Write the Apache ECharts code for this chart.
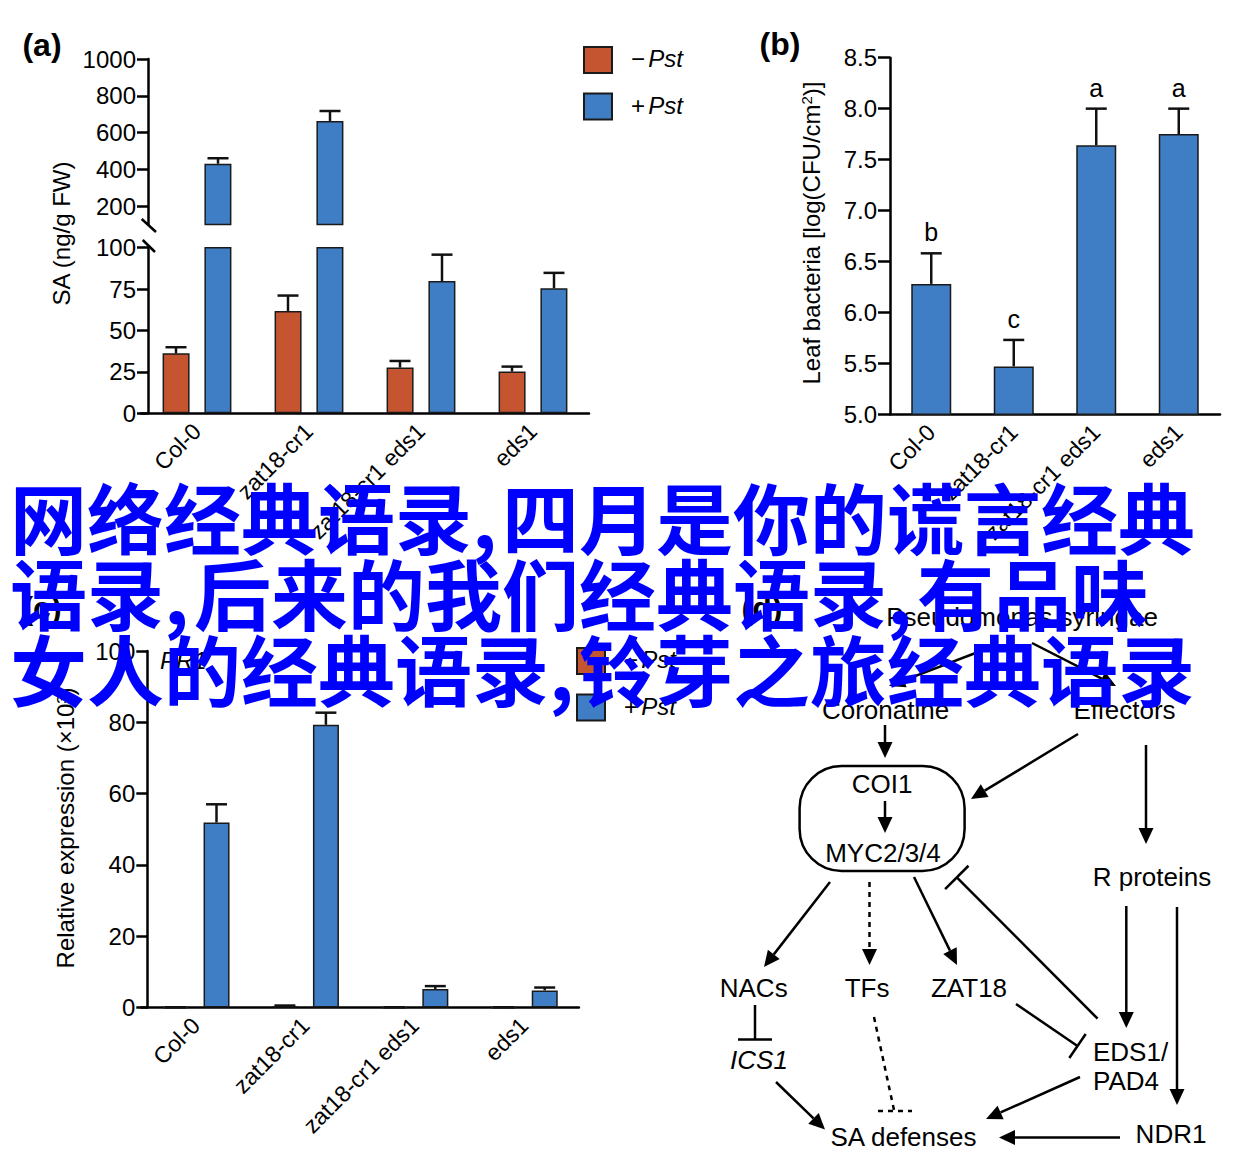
<!DOCTYPE html>
<html><head><meta charset="utf-8">
<script src="https://cdn.jsdelivr.net/npm/echarts@6/dist/echarts.min.js"></script>
<style>html,body{margin:0;padding:0;background:#fff}#chart{width:1245px;height:1166px}</style>
</head><body><div id="chart"></div>
<script>
// ---------- data ----------
const categories = ['Col-0', 'zat18-cr1', 'zat18-cr1 eds1', 'eds1'];
const seriesNames = ['−Pst', '+Pst'];
// (a) SA (ng/g FW)
const saMinusPst = [36.2, 61.8, 27.6, 25.2];
const saMinusPstErr = [3.7, 9.3, 4.0, 3.0];
const saPlusPst = [430, 663, 79.9, 75.5];
const saPlusPstErr = [30, 54, 15.9, 9.3];
const saUpperTicks = [200, 400, 600, 800, 1000];
// (b) Leaf bacteria
const bacteria = [6.28, 5.47, 7.64, 7.75];
const bacteriaErr = [0.30, 0.26, 0.36, 0.25];
const bacteriaLetters = ['b', 'c', 'a', 'a'];
// (c) PR1 relative expression
const pr1MinusPst = [0.05, 0.4, 0.05, 0.05];
const pr1MinusPstErr = [0.02, 0.15, 0.02, 0.02];
const pr1PlusPst = [51.9, 79.3, 5.2, 4.8];
const pr1PlusPstErr = [5.1, 3.4, 0.8, 0.8];
// overlay text lines (segments split at commas)
const overlayLines = [
  ['网络经典语录', '四月是你的谎言经典'],
  ['语录', '后来的我们经典语录', '有品味'],
  ['女人的经典语录', '铃芽之旅经典语录']
];

// ---------- styles ----------
const FONT = '"Liberation Sans", Arial, Helvetica, sans-serif';
const ORANGE = '#C45530', BLUE = '#3F7DC4', EDGE = '#1a1a1a';

function xCat(gridIndex, show) {
  return {
    type: 'category', gridIndex, data: categories, show,
    axisLine: { lineStyle: { color: '#000', width: 2.5 } },
    axisTick: { alignWithLabel: true, length: 10, lineStyle: { width: 2.5, color: '#000' } },
    axisLabel: { rotate: 45, interval: 0, margin: 14, fontSize: 23, color: '#000', fontFamily: FONT }
  };
}
function yVal(gridIndex, extra, tickExtra, labelExtra) {
  return Object.assign({
    type: 'value', gridIndex,
    axisLine: { show: true, lineStyle: { color: '#000', width: 2.5 } },
    axisTick: Object.assign({ show: true, length: 11, lineStyle: { width: 2.5, color: '#000' } }, tickExtra || {}),
    axisLabel: Object.assign({ fontSize: 24, color: '#000', fontFamily: FONT, margin: 12, formatter: v => String(v) }, labelExtra || {}),
    splitLine: { show: false }
  }, extra);
}
function bar(name, xi, yi, data, color, width, gap) {
  return { type: 'bar', name, xAxisIndex: xi, yAxisIndex: yi, data, barWidth: width, barGap: gap,
    itemStyle: { color, borderColor: EDGE, borderWidth: 1.5 }, z: 2 };
}
function errSeries(xi, yi, vals, errs, offset, letters) {
  return {
    type: 'custom', name: 'err', xAxisIndex: xi, yAxisIndex: yi, z: 4,
    data: vals.map((v, i) => [i, v, errs[i]]),
    encode: { x: 0, y: 1 },
    renderItem(params, api) {
      const cs = params.coordSys;
      const i = api.value(0), v = api.value(1), e = api.value(2);
      const p0 = api.coord([i, v]);
      const p1 = api.coord([i, v + e]);
      if (p0[1] > cs.y + cs.height + 0.5 || p1[1] < cs.y - 0.5) return null;
      const cx = p0[0] + offset;
      const ch = [
        { type: 'line', shape: { x1: cx, y1: p0[1], x2: cx, y2: p1[1] }, style: { stroke: '#111', lineWidth: 2.5 } },
        { type: 'line', shape: { x1: cx - 10.5, y1: p1[1], x2: cx + 10.5, y2: p1[1] }, style: { stroke: '#111', lineWidth: 2.5 } }
      ];
      if (letters) ch.push({ type: 'text', x: cx, y: p1[1] - 21,
        style: { text: letters[i], fill: '#000', fontSize: 25, fontFamily: FONT,
          align: 'center', verticalAlign: 'middle', textAlign: 'center', textVerticalAlign: 'middle' } });
      return { type: 'group', children: ch };
    }
  };
}
function legendAt(left, top) {
  return {
    left, top, padding: 0, orient: 'vertical', icon: 'rect', itemWidth: 28, itemHeight: 26, itemGap: 18.5,
    selectedMode: false, data: seriesNames,
    formatter: n => '{s|' + n.charAt(0) + '} {i|' + n.slice(1) + '}',
    textStyle: { padding: [0, 0, 3, 14], color: '#000',
      rich: { s: { fontSize: 24, fontFamily: FONT, color: '#000' },
              i: { fontSize: 24, fontFamily: FONT, fontStyle: 'italic', color: '#000' } } }
  };
}

// ---------- graphic helpers (labels, diagram) ----------
function T(text, x, y, o) {
  return { type: 'text', x, y, z: 10, rotation: (o && o.rot) || 0,
    style: Object.assign({ text, fill: '#000', fontSize: 26, fontFamily: FONT,
      align: 'center', verticalAlign: 'middle', textAlign: 'center', textVerticalAlign: 'middle' }, (o && o.style) || {}) };
}
function L(x1, y1, x2, y2, dash) {
  return { type: 'line', z: 10, shape: { x1, y1, x2, y2 },
    style: { stroke: '#000', lineWidth: 2.5, lineDash: dash ? [5, 5] : null } };
}
function A(x1, y1, x2, y2, dash) {
  const ang = Math.atan2(y2 - y1, x2 - x1), len = 16, w = 7.5;
  const bx = x2 - len * Math.cos(ang), by = y2 - len * Math.sin(ang);
  const px = -Math.sin(ang) * w, py = Math.cos(ang) * w;
  return [L(x1, y1, bx, by, dash),
    { type: 'polygon', z: 10, shape: { points: [[x2, y2], [bx + px, by + py], [bx - px, by - py]] }, style: { fill: '#000' } }];
}
function TB(x1, y1, x2, y2, half) {
  const ang = Math.atan2(y2 - y1, x2 - x1);
  const px = -Math.sin(ang) * half, py = Math.cos(ang) * half;
  return [L(x1, y1, x2, y2), L(x2 + px, y2 + py, x2 - px, y2 - py)];
}

const diagram = [].concat(
  T('Pseudomonas syringae', 1022, 617),
  A(986, 649, 889, 686), A(1032, 643, 1116, 686),
  T('Coronatine', 885.5, 710), T('Effectors', 1124.5, 710),
  A(885, 725, 885, 758),
  { type: 'rect', z: 10, shape: { x: 799.6, y: 766, width: 165, height: 105, r: 42 },
    style: { fill: 'rgba(0,0,0,0)', stroke: '#000', lineWidth: 2.5 } },
  T('COI1', 882, 784), A(885, 801, 885, 833), T('MYC2/3/4', 883, 853),
  A(1078, 734, 971, 799), A(1146, 745, 1146, 844),
  T('R proteins', 1152, 877),
  A(830, 882, 764, 967), A(869.5, 882, 869.5, 965, true), A(914, 877, 957, 965),
  TB(1097.6, 1018.7, 956.8, 877.4, 16.5),
  T('NACs', 753.7, 988), T('TFs', 867, 988), T('ZAT18', 969, 988),
  TB(755, 1005, 755, 1039.5, 17),
  T('ICS1', 759, 1059.5, { style: { fontStyle: 'italic' } }),
  A(776, 1082, 825, 1129.5),
  L(874, 1017, 894, 1110, true), L(878, 1111, 912, 1111, true),
  TB(1016, 1004, 1077.5, 1046, 14.5),
  A(1126.3, 906, 1126.3, 1028), A(1177, 907, 1177, 1105),
  T('EDS1/', 1093, 1052, { style: { align: 'left', textAlign: 'left' } }),
  T('PAD4', 1093, 1081, { style: { align: 'left', textAlign: 'left' } }),
  A(1080, 1077, 986, 1119),
  T('SA defenses', 903.5, 1137), A(1120, 1137.6, 999, 1137.6),
  T('NDR1', 1171, 1134)
);

const overlay = overlayLines.map((segs, k) => ({
  type: 'text', x: 10, y: 515 + k * 76, z: 100,
  style: {
    text: segs.map(s => '{t|' + s + '}').join('{c|,}'),
    align: 'left', verticalAlign: 'middle', textAlign: 'left', textVerticalAlign: 'middle',
    fill: '#0000FF', fontSize: 77, fontWeight: 'bold', fontFamily: '"Noto Sans CJK SC", sans-serif',
    rich: {
      t: { fill: '#0000FF', fontSize: 77, fontWeight: 'bold', fontFamily: '"Noto Sans CJK SC", sans-serif' },
      c: { fill: '#0000FF', fontSize: 77, fontWeight: 'bold', fontFamily: '"Noto Sans CJK SC", sans-serif', width: 30 }
    }
  }
}));

const labels = [
  T('(a)', 42, 45, { style: { fontSize: 32, fontWeight: 'bold' } }),
  T('(b)', 780, 44, { style: { fontSize: 32, fontWeight: 'bold' } }),
  T('(c)', 42, 608, { style: { fontSize: 32, fontWeight: 'bold' } }),
  T('(d)', 762, 608, { style: { fontSize: 32, fontWeight: 'bold' } }),
  T('SA (ng/g FW)', 61, 233.5, { rot: Math.PI / 2, style: { fontSize: 24 } }),
  T('Leaf bacteria [log(CFU/cm{sup|2})]', 811.7, 233, { rot: Math.PI / 2,
    style: { fontSize: 24, rich: { sup: { fontSize: 15, fontFamily: FONT, fill: '#000', verticalAlign: 'top', padding: [0, 0, 10, 0] } } } }),
  T('Relative expression (×10³)', 65, 828, { rot: Math.PI / 2, style: { fontSize: 24 } }),
  T('PR1', 160, 660, { style: { fontSize: 24, fontStyle: 'italic', align: 'left', textAlign: 'left' } }),
  L(141.7, 219, 156, 232), L(142.7, 240, 155, 252)
];

const option = {
  animation: false,
  backgroundColor: '#fff',
  textStyle: { fontFamily: FONT },
  grid: [
    { left: 141, top: 59, width: 448, height: 165.4 },
    { left: 141, top: 247.7, width: 448, height: 165.6 },
    { left: 890, top: 57.7, width: 330, height: 356.6 },
    { left: 141.3, top: 651, width: 437.6, height: 356.5 }
  ],
  xAxis: [xCat(0, false), xCat(1, true), xCat(2, true), xCat(3, true)],
  yAxis: [
    yVal(0, { min: 100, max: 1000, minInterval: 200, maxInterval: 200, offset: -7 },
      { customValues: saUpperTicks }, { customValues: saUpperTicks }),
    yVal(1, { min: 0, max: 100, interval: 25, offset: -7 }),
    yVal(2, { min: 5, max: 8.5, interval: 0.5 }, { length: 12 }, { margin: 13, formatter: v => v.toFixed(1) }),
    yVal(3, { min: 0, max: 100, interval: 20, offset: -6 })
  ],
  legend: [legendAt(583, 46), legendAt(576, 647)],
  series: [
    bar(seriesNames[0], 0, 0, saMinusPst, ORANGE, 27, '55%'),
    bar(seriesNames[1], 0, 0, saPlusPst, BLUE, 27, '55%'),
    bar(seriesNames[0], 1, 1, saMinusPst, ORANGE, 27, '55%'),
    bar(seriesNames[1], 1, 1, saPlusPst, BLUE, 27, '55%'),
    errSeries(0, 0, saMinusPst, saMinusPstErr, -21),
    errSeries(0, 0, saPlusPst, saPlusPstErr, 21),
    errSeries(1, 1, saMinusPst, saMinusPstErr, -21),
    errSeries(1, 1, saPlusPst, saPlusPstErr, 21),
    bar('Leaf bacteria', 2, 2, bacteria, BLUE, 40, '0%'),
    errSeries(2, 2, bacteria, bacteriaErr, 0, bacteriaLetters),
    bar(seriesNames[0], 3, 3, pr1MinusPst, ORANGE, 26, '58%'),
    bar(seriesNames[1], 3, 3, pr1PlusPst, BLUE, 26, '58%'),
    errSeries(3, 3, pr1MinusPst, pr1MinusPstErr, -20.5),
    errSeries(3, 3, pr1PlusPst, pr1PlusPstErr, 20.5)
  ],
  graphic: { elements: [].concat(labels, diagram, overlay) }
};

const chart = echarts.init(document.getElementById('chart'), null, { renderer: 'svg', width: 1245, height: 1166 });
chart.setOption(option);
</script>
</body></html>
